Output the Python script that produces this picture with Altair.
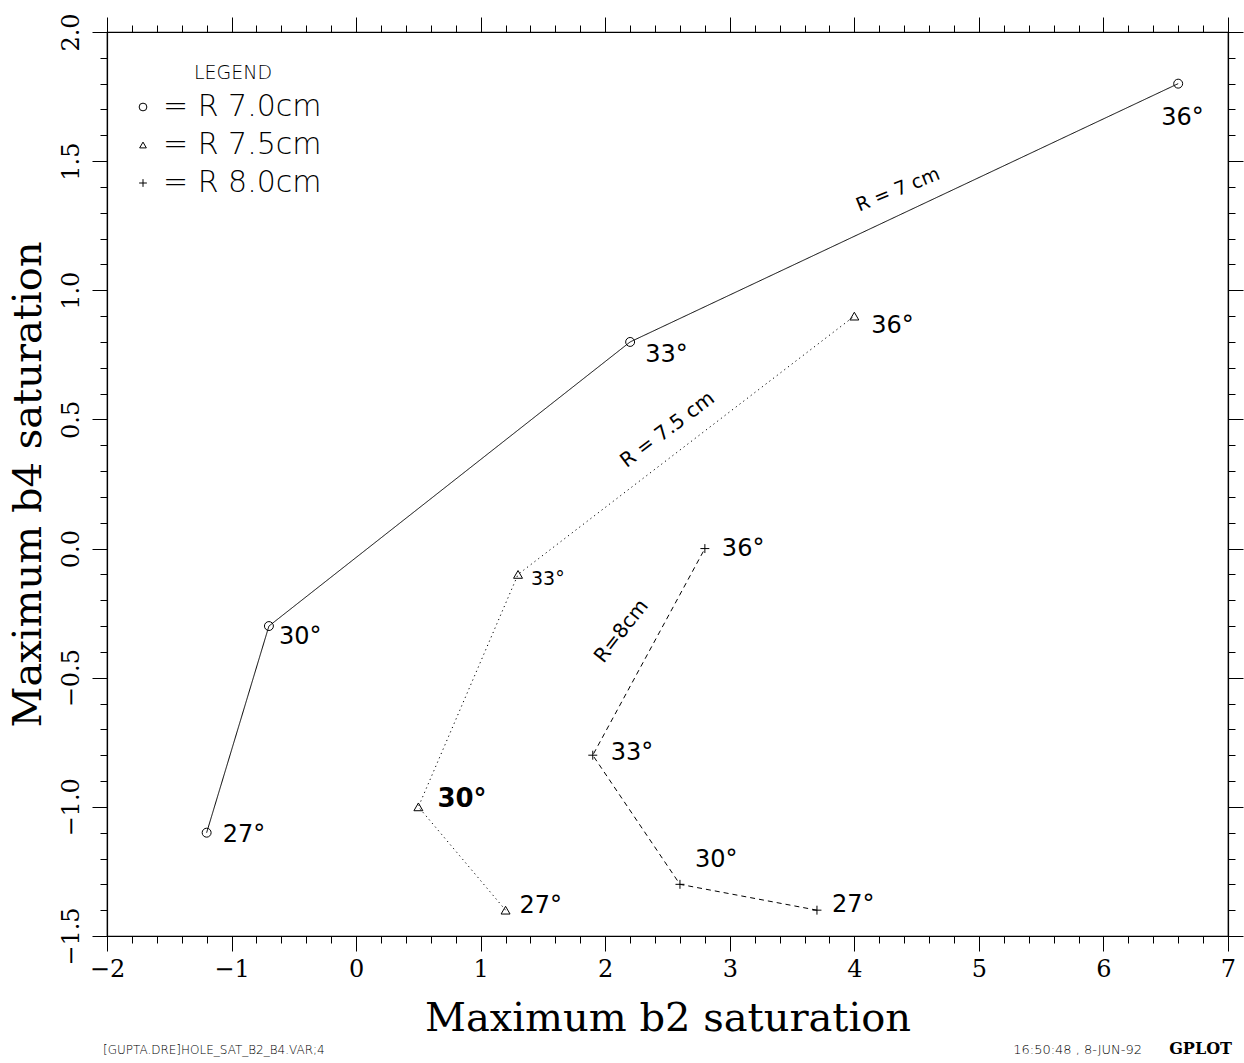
import altair as alt
import pandas as pd

# ---------------- data ----------------
series_names = ["R 7.0cm", "R 7.5cm", "R 8.0cm"]
series = ["R 7.0cm"] * 4 + ["R 7.5cm"] * 4 + ["R 8.0cm"] * 4
angles = [27, 30, 33, 36] * 3
b2 = [-1.2, -0.7, 2.2, 6.6, 1.2, 0.5, 1.3, 4.0, 3.7, 2.6, 1.9, 2.8]
b4 = [-1.1, -0.3, 0.8, 1.8, -1.4, -1.0, -0.1, 0.9, -1.4, -1.3, -0.8, 0.0]

line_label_text = ["R = 7 cm", "R = 7.5 cm", "R=8cm"]
line_label_b2 = [4.35, 2.50, 2.13]
line_label_b4 = [1.39, 0.46, -0.32]

x_ticks = [round(-2 + 0.2 * i, 1) for i in range(46)]
y_ticks = [round(-1.5 + 0.1 * i, 1) for i in range(36)]

legend_title = "LEGEND"
footer_left = "[GUPTA.DRE]HOLE_SAT_B2_B4.VAR;4"
footer_time = "16:50:48 ,  8-JUN-92"
footer_prog = "GPLOT"

df = pd.DataFrame({"series": series, "angle": angles, "b2": b2, "b4": b4})
df["label"] = [f"{a}°" for a in angles]
df["idx"] = list(range(len(df)))
ann = pd.DataFrame({"text": line_label_text, "b2": line_label_b2, "b4": line_label_b4})
ann["idx"] = list(range(len(ann)))
leg = pd.DataFrame({"series": series_names})
leg["text"] = ["= " + s for s in series_names]

# ---------------- styles ----------------
label_offsets = [(16, 2), (10, 11), (15, 13), (-17, 34),
                 (14, -4), (19, -8), (13, 5), (17, 10),
                 (15, -5), (15, -24), (18, -2), (17, 0)]
label_sizes = [24, 24, 24, 24, 24, 26, 19, 24, 24, 24, 24, 24]
label_weights = ["normal"] * 5 + ["bold"] + ["normal"] * 6
ann_angles = [338, 323, 308]
ann_sizes = [19, 20, 20]
shapes = ["circle", "triangle-up", "M-1,0H1M0,-1V1"]
legend_sym_sizes = [60, 45, 60]
dashes = [[1, 0], [1.2, 3.5], [5, 4]]
legend_rows_y = [75, 113, 151]

serif = "DejaVu Serif"
sans = "DejaVu Sans"
hand = "DejaVu Sans"

xs = alt.Scale(domain=[-2, 7], nice=False, zero=False)
ys = alt.Scale(domain=[-1.5, 2.0], nice=False, zero=False)

major_x = "abs(datum.value - round(datum.value)) < 0.001"
major_y = "abs(datum.value * 2 - round(datum.value * 2)) < 0.001"


def tsize(test):
    return {"condition": {"test": test, "value": 15}, "value": 7}


common = dict(grid=False, domainColor="black", domainWidth=1.2, tickColor="black",
              tickWidth=1, labelColor="black", titleColor="black", tickCount=200)

ax_bottom = alt.Axis(orient="bottom", values=x_ticks, tickSize=tsize(major_x),
                     format=".1f",
                     labelExpr=f"{major_x} ? format(datum.value, 'd') : ''",
                     labelFont=serif, labelFontSize=24, labelPadding=6,
                     labelFlush=False, labelOverlap=False,
                     title="Maximum b2 saturation", titleFont=serif,
                     titleFontSize=40, titleFontWeight="normal", titlePadding=17,
                     **common)
ax_top = alt.Axis(orient="top", values=x_ticks, tickSize=tsize(major_x),
                  labels=False, title=None, **common)
ax_left = alt.Axis(orient="left", values=y_ticks, tickSize=tsize(major_y),
                   format=".1f", labelExpr=f"{major_y} ? datum.label : ''",
                   labelAngle=270, labelFont=serif, labelFontSize=24,
                   labelPadding=9, labelFlush=False, labelOverlap=False,
                   title="Maximum b4 saturation", titleFont=serif,
                   titleFontSize=40, titleFontWeight="normal", titlePadding=11,
                   **common)
ax_right = alt.Axis(orient="right", values=y_ticks, tickSize=tsize(major_y),
                    labels=False, title=None, **common)

base = alt.Chart(df)

lines = base.mark_line(color="black", strokeWidth=1).encode(
    x=alt.X("b2:Q", scale=xs, axis=ax_top),
    y=alt.Y("b4:Q", scale=ys, axis=ax_right),
    detail="series:N",
    order=alt.Order("angle:Q"),
    strokeDash=alt.StrokeDash("series:N",
                              scale=alt.Scale(domain=series_names, range=dashes),
                              legend=None),
)

points = base.mark_point(filled=False, color="black", strokeWidth=1, size=80,
                         opacity=1).encode(
    x=alt.X("b2:Q", scale=xs, axis=ax_bottom),
    y=alt.Y("b4:Q", scale=ys, axis=ax_left),
    shape=alt.Shape("series:N",
                    scale=alt.Scale(domain=series_names, range=shapes),
                    legend=None),
)

layers = [lines, points]

for i, (dx, dy) in enumerate(label_offsets):
    layers.append(
        base.transform_filter(f"datum.idx == {i}").mark_text(
            align="left", baseline="middle", dx=dx, dy=dy, font=hand,
            fontSize=label_sizes[i], fontWeight=label_weights[i], color="black"
        ).encode(
            x=alt.X("b2:Q", scale=xs, axis=None),
            y=alt.Y("b4:Q", scale=ys, axis=None),
            text="label:N",
        )
    )

for i in range(len(ann)):
    layers.append(
        alt.Chart(ann).transform_filter(f"datum.idx == {i}").mark_text(
            align="center", baseline="middle", angle=ann_angles[i], font=hand,
            fontSize=ann_sizes[i], color="black"
        ).encode(
            x=alt.X("b2:Q", scale=xs, axis=None),
            y=alt.Y("b4:Q", scale=ys, axis=None),
            text="text:N",
        )
    )

# ----- legend block (inside plot, top-left) -----
dummy = alt.Chart(pd.DataFrame({"a": [0]}))
layers.append(dummy.mark_text(text=legend_title, align="center", baseline="middle",
                              font=sans, fontSize=19, fontWeight=200,
                              color="black").encode(
    x=alt.value(126), y=alt.value(41)))
for i, s in enumerate(series_names):
    sub = alt.Chart(leg).transform_filter(alt.datum.series == s)
    layers.append(sub.mark_point(shape=shapes[i], filled=False, color="black",
                                 strokeWidth=1, size=legend_sym_sizes[i],
                                 opacity=1).encode(
        x=alt.value(36), y=alt.value(legend_rows_y[i])))
    layers.append(sub.mark_text(align="left", baseline="middle", font=sans,
                                fontSize=30, fontWeight=200,
                                color="black").encode(
        x=alt.value(56), y=alt.value(legend_rows_y[i]), text="text:N"))

# ----- footer -----
layers.append(dummy.mark_text(text=footer_left, align="left", baseline="middle",
                              font=sans, fontSize=12, fontWeight=200,
                              color="black").encode(
    x=alt.value(-4), y=alt.value(1018)))
layers.append(dummy.mark_text(text=footer_time, align="right", baseline="middle",
                              font=sans, fontSize=13, fontWeight=200,
                              color="black").encode(
    x=alt.value(1035), y=alt.value(1018)))
layers.append(dummy.mark_text(text=footer_prog, align="right", baseline="middle",
                              font=serif, fontSize=16, fontWeight="bold",
                              color="black").encode(
    x=alt.value(1125), y=alt.value(1017)))

chart = alt.layer(*layers).resolve_axis(
    x="independent", y="independent"
).properties(
    width=1121, height=904,
    autosize=alt.AutoSizeParams(type="none"),
    padding={"left": 107, "top": 32, "right": 16, "bottom": 127},
    background="white",
).configure_view(stroke="black", strokeWidth=1.2)

chart.save("out.html", embed_options={"renderer": "svg", "actions": False})
